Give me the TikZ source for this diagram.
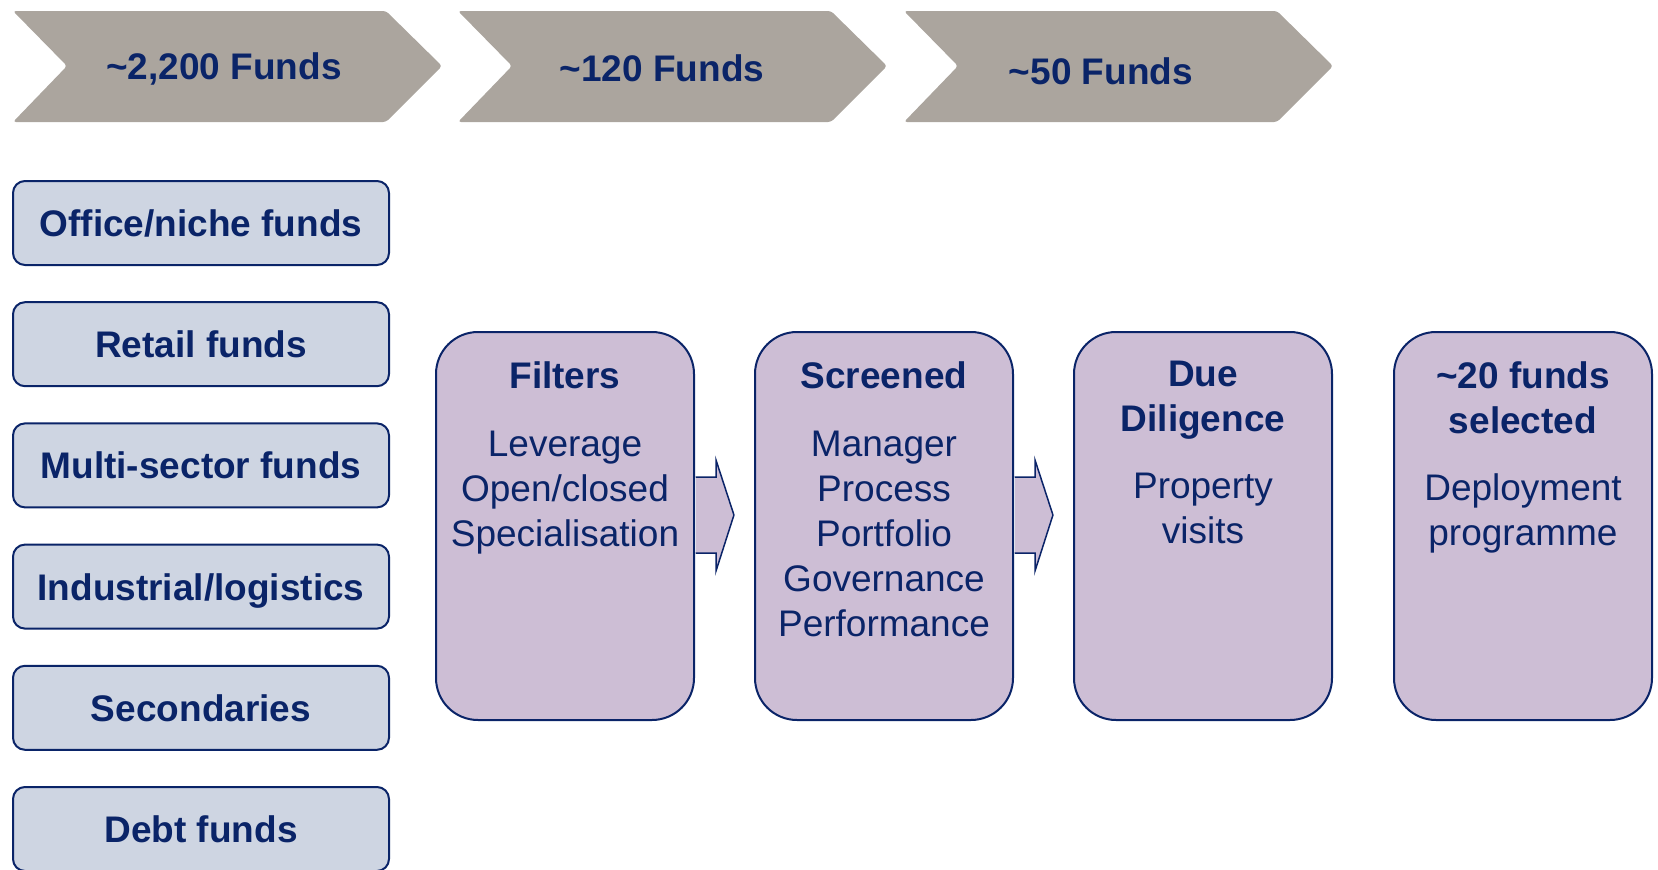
\documentclass[tikz,border=0pt]{standalone}
\usepackage{fontspec}
\setmainfont{Liberation Sans}
\usepackage{xcolor}
\usetikzlibrary{calc}

\definecolor{navy}{RGB}{10,36,104}
\definecolor{chevgray}{RGB}{171,165,158}
\definecolor{fundblue}{RGB}{206,213,226}
\definecolor{stagelilac}{RGB}{205,190,213}

\tikzset{
	chevron/.style={fill=chevgray,rounded corners=3pt},
	chevtext/.style={text=navy,font=\fontsize{37}{45}\selectfont\bfseries,inner sep=0pt,text height=27pt,text depth=0pt},
	fundbox/.style={draw=navy,line width=2pt,fill=fundblue,rounded corners=12pt,minimum width=376pt,minimum height=84pt,inner sep=0pt,
		text=navy,font=\fontsize{37}{45}\selectfont\bfseries,text height=27pt,text depth=0pt},
	stagebox/.style={draw=navy,line width=2pt,fill=stagelilac,rounded corners=42pt,minimum width=258pt,minimum height=388pt,inner sep=0pt},
	stagetext/.style={text=navy,font=\fontsize{37}{45}\selectfont,align=center,inner sep=0pt,anchor=north,
		execute at begin node=\rule{0pt}{29pt}},
	stagearrow/.style={draw=navy,line width=1.5pt,fill=stagelilac,line join=miter}
}

% block arrow from the east side of #1 towards #2
\newcommand\stagearrow[2]{%
	\draw[stagearrow] ($(#1.east)+(1,-49)$) -- ++(20,0) -- ++(0,-17)
		-- ($(#1.east)!0.66!(#2.west)+(0,-11)$)
		-- ($(#1.east)+(21,45)$) -- ++(0,-18) -- ($(#1.east)+(1,27)$);
}

\begin{document}
\begin{tikzpicture}
			[line cap=round,line join=round,x=1pt,y=-1pt]
			\useasboundingbox (0,0) rectangle (1658,870);
			\clip (0,0) rectangle (1658,870);
			% funnel chevrons along the top
			\foreach \x/\tx/\ty/\n/\txt in {13/224/66/1/{\textasciitilde 2,200 Funds},458/662/68/2/{\textasciitilde 120 Funds},904/1101/71/3/{\textasciitilde 50 Funds}}{
				\fill[chevron] (\x,11) -- ++(373,0) -- ++(56,55) -- ++(-56,56) -- ++(-373,0) -- ++(54,-56) -- cycle;
				\node[chevtext] (funnel\n) at (\tx,\ty) {\txt};
			}
			% fund universe
			\foreach \txt [count=\i] in {{Office/niche funds},{Retail funds},{Multi-sector funds},{Industrial/logistics},{Secondaries},{Debt funds}}
				\node[fundbox] (fund\i) at (201,{223+121.2*(\i-1)}) {\txt};
			% selection stages
			\foreach \nm/\x/\txt in {filt/565/{\textbf{Filters}\\[23pt]Leverage\\Open/closed\\Specialisation},
				scr/884/{\textbf{Screened}\\[23pt]Manager\\Process\\Portfolio\\Governance\\Performance},
				dd/1203/{\textbf{Due}\\\textbf{Diligence}\\[22pt]Property\\visits},
				sel/1523/{\textbf{\textasciitilde 20 funds}\\\textbf{selected}\\[22pt]Deployment\\programme}}{
				\node[stagebox] (\nm) at (\x,526) {};
				\node[stagetext] (\nm text) at ([yshift=-30pt]\nm.north) {\txt};
			}
			\stagearrow{filt}{scr}
			\stagearrow{scr}{dd}
		\end{tikzpicture}
\end{document}
